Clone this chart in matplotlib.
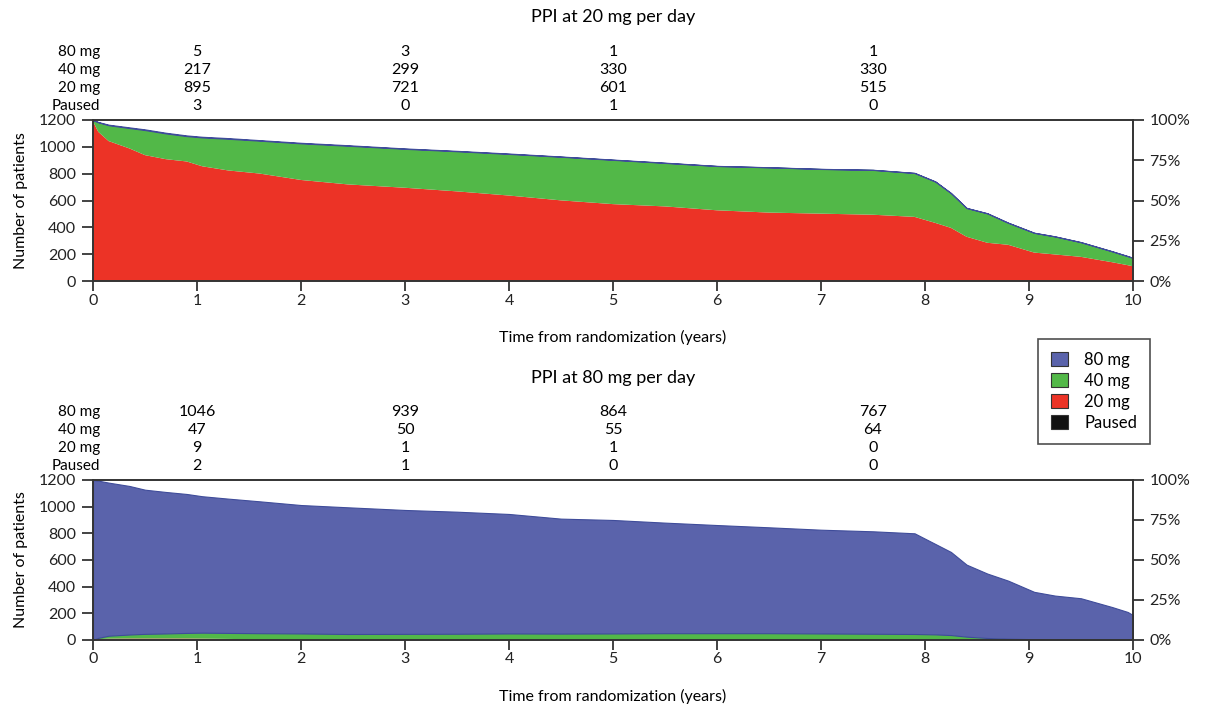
import numpy as np
import matplotlib
matplotlib.use("Agg")
import matplotlib.pyplot as plt
from matplotlib.patches import Patch

plt.rcParams["font.family"] = ["Lato", "DejaVu Sans"]

times = [0, 0.05, 0.15, 0.35, 0.5, 0.7, 0.9, 1.05, 1.3, 1.6, 2.0, 2.45, 3.0, 3.5,
         4.0, 4.5, 5.0, 5.5, 6.0, 6.5, 7.0, 7.5, 7.9, 8.1, 8.25, 8.4, 8.6, 8.8,
         9.05, 9.25, 9.5, 9.8, 9.95, 10.0]

# PPI at 20 mg per day
top_paused = [0, 2, 3, 3, 3, 3, 3, 3, 2, 1, 1, 0, 0, 0, 0, 1, 1, 1, 0, 0, 0, 0,
              0, 0, 0, 0, 0, 0, 0, 0, 0, 0, 0, 0]
top_20 = [1190, 1110, 1040, 985, 935, 905, 888, 852, 822, 800, 752, 720, 695, 668,
          637, 600, 572, 555, 527, 510, 502, 494, 478, 433, 396, 330, 285, 270,
          212, 198, 180, 140, 118, 110]
top_40 = [10, 71, 118, 152, 187, 192, 189, 215, 236, 245, 273, 288, 290, 299,
          310, 325, 330, 324, 330, 337, 333, 334, 327, 308, 259, 214, 219, 164,
          147, 134, 109, 81, 67, 62]
top_80 = [0, 2, 4, 5, 5, 5, 5, 5, 5, 4, 4, 4, 3, 3, 3, 2, 2, 2, 1, 1, 1, 1,
          1, 1, 1, 1, 1, 1, 1, 1, 1, 1, 1, 1]

# PPI at 80 mg per day
bot_paused = [0, 1, 2, 2, 2, 2, 2, 2, 2, 1, 1, 1, 1, 1, 1, 0, 0, 0, 0, 0, 0, 0,
              0, 0, 0, 0, 0, 0, 0, 0, 0, 0, 0, 0]
bot_20 = [0, 5, 8, 9, 9, 9, 9, 8, 6, 4, 3, 2, 1, 1, 1, 1, 1, 1, 1, 1, 1, 1,
          0, 0, 0, 0, 0, 0, 0, 0, 0, 0, 0, 0]
bot_40 = [0, 10, 22, 30, 35, 38, 42, 45, 45, 46, 45, 42, 44, 45, 47, 47, 48, 50,
          50, 50, 48, 46, 45, 42, 37, 25, 15, 10, 6, 4, 3, 2, 2, 2]
bot_80 = [1200, 1179, 1148, 1114, 1081, 1061, 1042, 1023, 1007, 989, 963, 950,
          929, 915, 896, 862, 851, 829, 811, 794, 778, 768, 755, 678, 623, 540,
          483, 435, 355, 329, 310, 245, 208, 185]

# numbers shown above each panel
table_times = [1, 3, 5, 7.5]
table_rows = ["80 mg", "40 mg", "20 mg", "Paused"]
top_table = [[5, 3, 1, 1], [217, 299, 330, 330], [895, 721, 601, 515], [3, 0, 1, 0]]
bot_table = [[1046, 939, 864, 767], [47, 50, 55, 64], [9, 1, 1, 0], [2, 1, 0, 0]]

colors = {"Paused": "#111111", "20 mg": "#EC3326", "40 mg": "#52B848", "80 mg": "#5A63AB"}
row_offsets = [49, 36, 23, 10]  # points above the top spine

fig = plt.figure(figsize=(12.05, 7.10), dpi=100)
ax_top = fig.add_axes([0.0772, 0.6042, 0.863, 0.2268])
ax_bot = fig.add_axes([0.0772, 0.0986, 0.863, 0.2254])


def draw_panel(ax, paused, d20, d40, d80, table, title, title_y):
    polys = ax.stackplot(times, paused, d20, d40, d80,
                         colors=[colors["Paused"], colors["20 mg"], colors["40 mg"], colors["80 mg"]],
                         linewidth=0)
    polys[3].set_edgecolor("#3F4C9A")
    polys[3].set_linewidth(0.8)

    ax.set_xlim(0, 10)
    ax.set_ylim(0, 1200)
    ax.set_xticks(range(0, 11))
    ax.set_yticks(range(0, 1201, 200))
    ax.tick_params(direction="out", length=8, width=1.2, labelsize=11.5, colors="#222222")
    ax.tick_params(axis="x", length=7, pad=2)
    ax.tick_params(axis="y", pad=4)
    for s in ax.spines.values():
        s.set_linewidth(1.2)
        s.set_color("#333333")
    ax.set_xlabel("Time from randomization (years)", fontsize=11.5, labelpad=16)
    ax.set_ylabel("Number of patients", fontsize=11.5, labelpad=8)

    right = ax.twinx()
    right.set_ylim(0, 100)
    right.set_yticks([0, 25, 50, 75, 100])
    right.set_yticklabels(["0%", "25%", "50%", "75%", "100%"])
    right.tick_params(direction="out", length=8, width=1.2, labelsize=11.5,
                      colors="#222222", pad=4)
    for s in right.spines.values():
        s.set_linewidth(1.2)
        s.set_color("#333333")

    for name, vals, off in zip(table_rows, table, row_offsets):
        ax.annotate(name, xy=(0.007, 1), xycoords="axes fraction",
                    xytext=(0, off), textcoords="offset points",
                    ha="right", va="center", fontsize=11, annotation_clip=False)
        for t, v in zip(table_times, vals):
            ax.annotate(str(v), xy=(t, 1), xycoords=("data", "axes fraction"),
                        xytext=(0, off), textcoords="offset points",
                        ha="center", va="center", fontsize=11.5, annotation_clip=False)

    fig.text(0.5087, title_y, title, ha="center", va="center", fontsize=13)


draw_panel(ax_top, top_paused, top_20, top_40, top_80, top_table,
           "PPI at 20 mg per day", 1 - 17 / 710)
draw_panel(ax_bot, bot_paused, bot_20, bot_40, bot_80, bot_table,
           "PPI at 80 mg per day", 1 - 378 / 710)

handles = [Patch(facecolor=colors[k], edgecolor="#333333", linewidth=0.8)
           for k in ["80 mg", "40 mg", "20 mg", "Paused"]]
leg = fig.legend(handles, ["80 mg", "40 mg", "20 mg", "Paused"],
                 loc="upper left", bbox_to_anchor=(0.861, 0.523),
                 fontsize=12, frameon=True, fancybox=False,
                 handlelength=1.0, handleheight=0.9, labelspacing=0.3,
                 borderpad=0.8, handletextpad=1.0, borderaxespad=0)
leg.get_frame().set_edgecolor("#222222")
leg.get_frame().set_linewidth(1.2)

fig.savefig("out.png", dpi=100)
